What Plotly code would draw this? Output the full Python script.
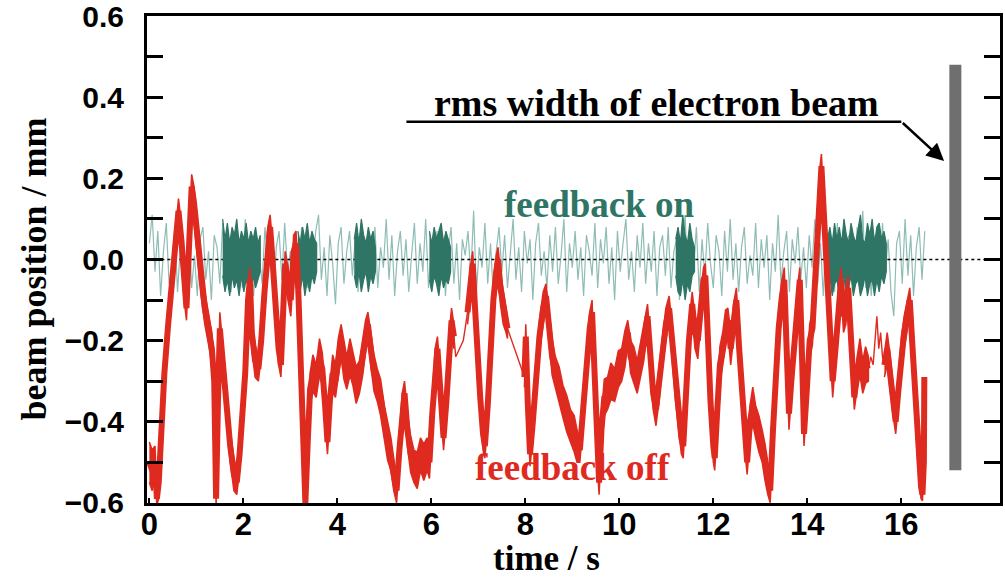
import numpy as np
import plotly.graph_objects as go

# ---------------- data ----------------
# "feedback off" (red): key points of the noisy band, centre value and half width
red_t = [0.00, 0.06, 0.12, 0.16, 0.20, 0.26, 0.32, 0.40, 0.48, 0.55, 0.62, 0.68, 0.74, 0.79, 0.84, 0.90, 0.95,
         1.02, 1.10, 1.18, 1.26, 1.33, 1.38, 1.42, 1.46, 1.50, 1.56, 1.64, 1.72, 1.80, 1.86, 1.92, 1.98,
         2.04, 2.10, 2.14, 2.18, 2.25, 2.32, 2.38, 2.45, 2.52, 2.57, 2.62, 2.68, 2.75, 2.80, 2.85, 2.89,
         2.95, 3.01, 3.07, 3.12, 3.17, 3.22, 3.27, 3.32, 3.37, 3.42, 3.48, 3.55, 3.62, 3.68, 3.74, 3.79,
         3.84, 3.90, 3.96, 4.02, 4.08, 4.14, 4.20, 4.27, 4.33, 4.40, 4.47, 4.54, 4.60, 4.65, 4.71, 4.78,
         4.85, 4.92, 5.00, 5.07, 5.14, 5.20, 5.26, 5.32, 5.38, 5.43, 5.49, 5.56, 5.63, 5.70, 5.77, 5.84,
         5.91, 5.96, 6.02, 6.08, 6.13, 6.19, 6.26, 6.32, 6.38, 6.43, 6.48, None,
         6.77, 6.83, 6.88, 6.93, 6.98, 7.04, 7.10, 7.14, 7.20, 7.26, 7.32, 7.38, 7.42, 7.47, 7.53, 7.59, 7.62, None,
         7.98, 8.01, 8.05, 8.10, 8.16, 8.22, 8.30, 8.38, 8.44, 8.50, 8.57, 8.64, 8.72, 8.80, 8.88, 8.96,
         9.04, 9.10, 9.16, 9.22, 9.30, 9.37, 9.42, 9.47, 9.52, 9.57, 9.62, 9.68, 9.75, 9.82, 9.90, 9.98,
         10.05, 10.12, 10.18, 10.24, 10.31, 10.38, 10.45, 10.52, 10.60, 10.66, 10.72, 10.78, 10.85, 10.92,
         10.99, 11.06, 11.12, 11.19, 11.26, 11.32, 11.36, 11.42, 11.48, 11.55, 11.61, 11.67, 11.73, 11.79,
         11.83, 11.88, 11.94, 12.00, 12.03, 12.08, 12.14, 12.20, 12.26, 12.31, 12.37, 12.43, 12.49, 12.55,
         12.61, 12.67, 12.72, 12.78, 12.84, 12.90, 12.97, 13.04, 13.10, 13.16, 13.21, 13.27, 13.33, 13.39,
         13.45, 13.51, 13.56, 13.61, 13.66, 13.72, 13.78, 13.84, 13.89, 13.93, 13.99, 14.05, 14.11, 14.17,
         14.22, 14.27, 14.30, 14.34, 14.39, 14.44, 14.49, 14.54, 14.60, 14.66, 14.72, 14.77, 14.82, 14.87,
         14.93, 15.00, 15.06, 15.12, 15.18, 15.24, 15.30, None,
         15.64, 15.70, 15.76, 15.82, 15.88, 15.94, 16.00, 16.06, 16.12, 16.18, 16.24, 16.30, 16.36, 16.42,
         16.45, 16.48, 16.49]
red_v = [-0.50, -0.52, -0.50, -0.59, -0.55, -0.40, -0.28, -0.16, -0.06, 0.04, 0.12, 0.05, -0.06, -0.12, 0.02, 0.18, 0.14,
         0.05, -0.05, -0.12, -0.17, -0.22, -0.30, -0.59, -0.35, -0.17, -0.25, -0.36, -0.46, -0.53, -0.55, -0.48, -0.38,
         -0.28, -0.10, -0.05, -0.18, -0.25, -0.27, -0.20, -0.08, 0.04, 0.08, 0.00, -0.12, -0.22, -0.26, -0.12, -0.01,
         -0.06, -0.10, 0.02, 0.04, -0.08, -0.30, -0.45, -0.60, -0.45, -0.32, -0.28, -0.30, -0.24, -0.27, -0.36, -0.45,
         -0.35, -0.28, -0.30, -0.24, -0.20, -0.25, -0.28, -0.24, -0.27, -0.31, -0.29, -0.24, -0.19, -0.16, -0.22, -0.28,
         -0.31, -0.34, -0.40, -0.45, -0.48, -0.53, -0.57, -0.47, -0.37, -0.33, -0.42, -0.48, -0.51, -0.52, -0.48, -0.50,
         -0.48, -0.50, -0.38, -0.26, -0.22, -0.32, -0.44, -0.35, -0.22, -0.15, -0.19, None,
         -0.13, -0.06, -0.01, -0.12, -0.24, -0.34, -0.43, -0.46, -0.36, -0.22, -0.10, -0.03, 0.00, -0.07, -0.12, -0.15, -0.17, None,
         -0.29, -0.19, -0.35, -0.48, -0.40, -0.30, -0.19, -0.12, -0.09, -0.16, -0.24, -0.28, -0.31, -0.35, -0.38, -0.41,
         -0.43, -0.46, -0.47, -0.38, -0.27, -0.17, -0.13, -0.30, -0.45, -0.55, -0.42, -0.34, -0.33, -0.30, -0.31, -0.27,
         -0.26, -0.22, -0.18, -0.24, -0.26, -0.29, -0.25, -0.21, -0.14, -0.24, -0.33, -0.37, -0.30, -0.22,
         -0.16, -0.12, -0.20, -0.30, -0.38, -0.44, -0.46, -0.32, -0.20, -0.11, -0.18, -0.20, -0.12, -0.05,
         -0.04, -0.20, -0.35, -0.46, -0.49, -0.38, -0.26, -0.22, -0.17, -0.15, -0.22, -0.15, -0.10, -0.22,
         -0.33, -0.43, -0.50, -0.40, -0.36, -0.40, -0.43, -0.46, -0.50, -0.54, -0.57, -0.42, -0.25, -0.17,
         -0.10, -0.05, -0.22, -0.38, -0.30, -0.20, -0.12, -0.05, -0.25, -0.43, -0.32, -0.20, -0.17, -0.04,
         0.10, 0.20, 0.23, 0.14, 0.02, -0.08, -0.20, -0.30, -0.22, -0.12, -0.05, -0.14, -0.12, -0.07,
         -0.20, -0.34, -0.28, -0.24, -0.29, -0.26, -0.27, None,
         -0.26, -0.22, -0.28, -0.34, -0.40, -0.32, -0.24, -0.18, -0.14, -0.10, -0.22, -0.35, -0.48, -0.56,
         -0.58, -0.50, -0.29]
red_w = [0.05, 0.05, 0.04, 0.015, 0.04, 0.04, 0.04, 0.04, 0.04, 0.04, 0.03, 0.04, 0.04, 0.03, 0.04, 0.03, 0.04,
         0.04, 0.04, 0.04, 0.04, 0.04, 0.03, 0.015, 0.03, 0.04, 0.04, 0.04, 0.04, 0.04, 0.03, 0.04, 0.04,
         0.04, 0.04, 0.03, 0.04, 0.04, 0.03, 0.04, 0.04, 0.04, 0.03, 0.04, 0.04, 0.04, 0.03, 0.04, 0.03,
         0.04, 0.04, 0.04, 0.03, 0.04, 0.04, 0.04, 0.015, 0.04, 0.04, 0.045, 0.04, 0.045, 0.04, 0.04, 0.03,
         0.04, 0.045, 0.04, 0.045, 0.04, 0.045, 0.04, 0.045, 0.04, 0.045, 0.04, 0.045, 0.04, 0.03, 0.04, 0.045,
         0.04, 0.045, 0.04, 0.045, 0.04, 0.04, 0.03, 0.04, 0.04, 0.03, 0.04, 0.045, 0.04, 0.045, 0.04, 0.045,
         0.04, 0.04, 0.04, 0.04, 0.03, 0.04, 0.03, 0.04, 0.04, 0.03, 0.03, None,
         0.03, 0.04, 0.03, 0.04, 0.04, 0.04, 0.04, 0.03, 0.04, 0.04, 0.04, 0.04, 0.03, 0.04, 0.04, 0.03, 0.025, None,
         0.025, 0.03, 0.04, 0.03, 0.04, 0.04, 0.04, 0.04, 0.03, 0.04, 0.045, 0.04, 0.045, 0.04, 0.045, 0.04,
         0.045, 0.04, 0.03, 0.04, 0.04, 0.04, 0.03, 0.04, 0.04, 0.03, 0.04, 0.045, 0.04, 0.045, 0.04, 0.045,
         0.04, 0.045, 0.03, 0.04, 0.045, 0.04, 0.045, 0.04, 0.03, 0.04, 0.04, 0.04, 0.045, 0.04,
         0.04, 0.03, 0.04, 0.045, 0.04, 0.04, 0.03, 0.04, 0.04, 0.03, 0.04, 0.045, 0.04, 0.03,
         0.03, 0.04, 0.04, 0.04, 0.03, 0.04, 0.045, 0.04, 0.045, 0.03, 0.04, 0.04, 0.03, 0.04,
         0.04, 0.04, 0.03, 0.04, 0.045, 0.04, 0.045, 0.04, 0.045, 0.04, 0.03, 0.04, 0.04, 0.04,
         0.04, 0.03, 0.04, 0.04, 0.04, 0.04, 0.04, 0.03, 0.04, 0.03, 0.04, 0.04, 0.04, 0.04,
         0.04, 0.03, 0.03, 0.04, 0.04, 0.04, 0.04, 0.04, 0.04, 0.04, 0.03, 0.04, 0.04, 0.03,
         0.04, 0.03, 0.04, 0.045, 0.04, 0.045, 0.03, None,
         0.03, 0.04, 0.045, 0.04, 0.03, 0.04, 0.045, 0.04, 0.04, 0.03, 0.04, 0.04, 0.04, 0.03,
         0.015, 0.02, 0.00]

# thin stretches of the red trace
red_thin_t = [6.48, 6.52, 6.56, 6.60, 6.64, 6.68, 6.72, 6.77, None,
              7.62, 7.68, 7.74, 7.80, 7.86, 7.92, 7.98, None,
              15.30, 15.35, 15.40, 15.44, 15.48, 15.52, 15.56, 15.60, 15.64]
red_thin_v = [-0.19, -0.24, -0.23, -0.22, -0.21, -0.20, -0.17, -0.13, None,
              -0.17, -0.19, -0.21, -0.23, -0.25, -0.27, -0.29, None,
              -0.27, -0.24, -0.26, -0.20, -0.14, -0.22, -0.18, -0.24, -0.26]

# "feedback on" (teal): sampled every 0.06 s
green_dt = 0.06
green_v = [0.04, 0.11, -0.03, 0.07, -0.09, 0.02, 0.09, -0.06, -0.01, 0.08,
           -0.08, 0.03, 0.06, -0.04, 0.10, -0.07, 0.01, -0.09, 0.05, 0.08,
           -0.05, 0.02, -0.10, 0.06, 0.03, -0.06, 0.09, -0.02, 0.05, -0.08,
           0.07, -0.03, 0.04, -0.07, 0.10, -0.05, 0.02, -0.09, 0.06, 0.01,
           -0.06, 0.08, -0.02, 0.05, -0.10, 0.03, 0.07, -0.05, 0.09, -0.03,
           0.02, -0.08, 0.06, -0.04, 0.08, 0.01, -0.07, 0.05, -0.02, 0.07,
           0.11, -0.05, 0.03, -0.09, 0.06, -0.01, -0.11, 0.04, 0.08, -0.06,
           0.02, 0.07, -0.04, 0.05, -0.08, 0.09, -0.03, 0.04, -0.06, 0.01,
           0.08, -0.07, 0.03, -0.02, 0.10, -0.05, 0.06, -0.09, 0.02, 0.07,
           -0.04, 0.05, -0.08, 0.01, 0.09, -0.06, 0.04, -0.03, 0.10, -0.07,
           0.03, -0.05, 0.07, -0.02, 0.06, -0.09, 0.02, 0.08, -0.06, 0.04,
           -0.10, 0.05, 0.01, 0.07, -0.04, 0.12, -0.08, 0.03, -0.02, 0.09,
           -0.06, 0.04, -0.09, 0.02, 0.08, -0.03, 0.06, -0.07, 0.01, 0.10,
           -0.05, 0.03, -0.08, 0.07, -0.01, 0.05, -0.10, 0.04, 0.09, -0.04,
           0.02, -0.07, 0.06, -0.03, 0.08, -0.06, 0.01, 0.10, -0.08, 0.04,
           -0.02, 0.07, -0.05, 0.03, -0.09, 0.06, 0.02, -0.04, 0.09, -0.07,
           0.05, -0.01, 0.08, -0.06, 0.03, -0.10, 0.07, -0.03, 0.04, 0.10,
           -0.05, 0.02, -0.08, 0.06, -0.02, 0.09, -0.06, 0.04, -0.03, 0.07,
           -0.09, 0.03, 0.06, -0.04, 0.08, -0.07, 0.02, 0.05, -0.10, 0.04,
           0.11, -0.06, 0.03, -0.02, 0.08, -0.08, 0.05, -0.04, 0.09, -0.01,
           -0.07, 0.06, 0.02, -0.09, 0.07, -0.03, 0.10, -0.05, 0.04, -0.08,
           0.03, 0.08, -0.06, 0.01, -0.04, 0.09, -0.07, 0.05, -0.02, 0.06,
           -0.10, 0.04, -0.03, 0.11, -0.06, 0.02, 0.07, -0.08, 0.05, -0.01,
           0.08, -0.05, 0.03, -0.07, 0.06, -0.02, 0.10, -0.06, 0.04, -0.09,
           0.07, -0.03, 0.05, -0.08, 0.09, -0.04, 0.02, -0.07, 0.06, 0.01,
           -0.06, 0.08, -0.04, 0.12, -0.07, 0.03, -0.09, 0.06, 0.02, -0.05,
           0.09, -0.03, 0.05, -0.08, -0.14, 0.04, 0.07, -0.06, 0.10, -0.04,
           0.06, -0.09, 0.03, 0.08, -0.05, 0.07]

# dense bursts of the "feedback on" signal: start time, envelope every 0.05 s
dense_dt = 0.05
dense_start = [1.56, 3.16, 4.36, 5.96, 11.20, 14.43]
dense_hi = [[0.10, 0.05, 0.09, 0.04, 0.08, 0.06, 0.10, 0.04, 0.07, 0.05, 0.09, 0.04, 0.07, 0.05, 0.08, 0.04, 0.06],
            [0.07, 0.04, 0.08, 0.05, 0.09, 0.04, 0.07, 0.05, 0.04],
            [0.05, 0.09, 0.04, 0.10, 0.06, 0.04, 0.08, 0.05, 0.07, 0.03],
            [0.07, 0.04, 0.08, 0.05, 0.07, 0.09, 0.04, 0.07, 0.05, 0.03],
            [0.05, 0.08, 0.04, 0.11, 0.06, 0.04, 0.09, 0.05, 0.03],
            [0.05, 0.08, 0.04, 0.09, 0.05, 0.08, 0.04, 0.10, 0.06, 0.04, 0.09, 0.06, 0.04, 0.08, 0.11, 0.05,
             0.04, 0.09, 0.06, 0.10, 0.04, 0.08, 0.09, 0.05, 0.07, 0.04]]
dense_lo = [[-0.04, -0.08, -0.05, -0.09, -0.04, -0.07, -0.05, -0.09, -0.04, -0.08, -0.05, -0.07, -0.09, -0.04, -0.07, -0.05, -0.03],
            [-0.05, -0.08, -0.04, -0.09, -0.05, -0.08, -0.04, -0.06, -0.03],
            [-0.04, -0.07, -0.03, -0.08, -0.05, -0.03, -0.08, -0.04, -0.06, -0.03],
            [-0.05, -0.08, -0.04, -0.06, -0.09, -0.04, -0.07, -0.05, -0.06, -0.03],
            [-0.04, -0.08, -0.09, -0.05, -0.10, -0.06, -0.08, -0.04, -0.03],
            [-0.06, -0.04, -0.09, -0.06, -0.05, -0.09, -0.06, -0.04, -0.09, -0.07, -0.04, -0.09, -0.06, -0.05,
             -0.09, -0.07, -0.04, -0.09, -0.06, -0.05, -0.09, -0.05, -0.08, -0.04, -0.06, -0.03]]

zero_level = 0.0
rms_bar_t = 17.15
rms_bar_range = [-0.52, 0.48]
x_tick_vals = [0, 2, 4, 6, 8, 10, 12, 14, 16]
y_tick_vals = [-0.6, -0.4, -0.2, 0.0, 0.2, 0.4, 0.6]

# ---------------- styles ----------------
RED = "#df2a1f"
TEAL = "#2f7566"
TEAL_LIGHT = "#8fbdb5"
GREY = "#6f6f6f"
SERIF = "Liberation Serif"
SANS = "Liberation Sans"
X_RANGE = [-0.05, 18.1]
Y_RANGE = [-0.6005, 0.6005]

fig = go.Figure()

# light teal feedback-on signal
green_t = np.arange(len(green_v)) * green_dt
fig.add_trace(go.Scatter(x=green_t, y=green_v, mode="lines",
                         line=dict(color=TEAL_LIGHT, width=1.2), hoverinfo="skip"))

# dotted zero line
fig.add_trace(go.Scatter(x=[0, X_RANGE[1]], y=[zero_level, zero_level], mode="lines",
                         line=dict(color="black", width=1.6, dash="dot"), hoverinfo="skip"))

# dense teal bursts
px, py = [], []
for s, hi, lo in zip(dense_start, dense_hi, dense_lo):
    tt = list(s + np.arange(len(hi)) * dense_dt)
    px += tt + tt[::-1] + [None]
    py += hi + lo[::-1] + [None]
fig.add_trace(go.Scatter(x=px, y=py, mode="lines", fill="toself", fillcolor=TEAL,
                         line=dict(color=TEAL, width=1.2), hoverinfo="skip"))

# red band (feedback off)
segs, cur = [], []
for i, t in enumerate(red_t):
    if t is None:
        if cur:
            segs.append(cur)
        cur = []
    else:
        cur.append(i)
if cur:
    segs.append(cur)
bx, by = [], []
for seg in segs:
    tt = [red_t[i] for i in seg]
    hi = [red_v[i] + red_w[i] for i in seg]
    lo = [red_v[i] - red_w[i] for i in seg]
    bx += tt + tt[::-1] + [None]
    by += hi + lo[::-1] + [None]
fig.add_trace(go.Scatter(x=bx, y=by, mode="lines", fill="toself", fillcolor=RED,
                         line=dict(color=RED, width=1.5), hoverinfo="skip"))
fig.add_trace(go.Scatter(x=red_t, y=red_v, mode="lines", connectgaps=False,
                         line=dict(color=RED, width=6), hoverinfo="skip"))
fig.add_trace(go.Scatter(x=red_thin_t, y=red_thin_v, mode="lines", connectgaps=False,
                         line=dict(color=RED, width=1.4), hoverinfo="skip"))

# rms width bar
fig.add_trace(go.Scatter(x=[rms_bar_t, rms_bar_t], y=rms_bar_range, mode="lines",
                         line=dict(color=GREY, width=12), hoverinfo="skip"))

# annotation line + arrow
fig.add_shape(type="line", x0=5.47, x1=16.0, y0=0.34, y1=0.34, xref="x", yref="y",
              line=dict(color="black", width=2.5))
fig.add_annotation(x=16.91, y=0.243, ax=16.0, ay=0.34, xref="x", yref="y", axref="x", ayref="y",
                   text="", showarrow=True, arrowhead=2, arrowsize=1.4, arrowwidth=2.5,
                   arrowcolor="black")
fig.add_annotation(x=10.79, y=0.386, xref="x", yref="y", text="rms width of electron beam",
                   showarrow=False, font=dict(family=SERIF, size=38, color="black", weight="bold"))
fig.add_annotation(x=9.57, y=0.135, xref="x", yref="y", text="feedback on",
                   showarrow=False, font=dict(family=SERIF, size=37, color=TEAL, weight="bold"))
fig.add_annotation(x=9.0, y=-0.514, xref="x", yref="y", text="feedback off",
                   showarrow=False, font=dict(family=SERIF, size=37, color=RED, weight="bold"))

# axis titles
fig.add_annotation(x=8.45, y=-0.113, xref="x", yref="paper", text="time / s", showarrow=False,
                   yanchor="middle", font=dict(family=SERIF, size=35, color="black", weight="bold"))
fig.add_annotation(x=-0.158, y=0.48, xref="paper", yref="paper", text="beam position / mm",
                   showarrow=False, textangle=-90,
                   font=dict(family=SERIF, size=36, color="black", weight="bold"))

fig.update_layout(
    width=1005, height=580,
    margin=dict(l=147, r=5, t=16, b=77, autoexpand=False),
    paper_bgcolor="white", plot_bgcolor="white",
    showlegend=False,
    xaxis=dict(range=X_RANGE, tickvals=x_tick_vals, ticks="inside", ticklen=5, tickwidth=2,
               tickcolor="black", showline=True, linewidth=3, linecolor="black", mirror=True,
               showgrid=False, zeroline=False, ticklabelstandoff=-8, ticklabeloverflow="allow",
               automargin=False,
               tickfont=dict(family=SANS, size=31, color="black", weight="bold")),
    yaxis=dict(range=Y_RANGE, tickvals=y_tick_vals, tickformat=".1f", ticks="inside", ticklen=16,
               tickwidth=3, tickcolor="black", showline=True, linewidth=3, linecolor="black",
               mirror="ticks", showgrid=False, zeroline=False, ticklabelstandoff=14,
               ticklabeloverflow="allow", automargin=False,
               minor=dict(dtick=0.1, tick0=0, ticks="inside", ticklen=16, tickwidth=3,
                          tickcolor="black", showgrid=False),
               tickfont=dict(family=SANS, size=30, color="black", weight="bold")),
)

fig.write_html("out.html")
